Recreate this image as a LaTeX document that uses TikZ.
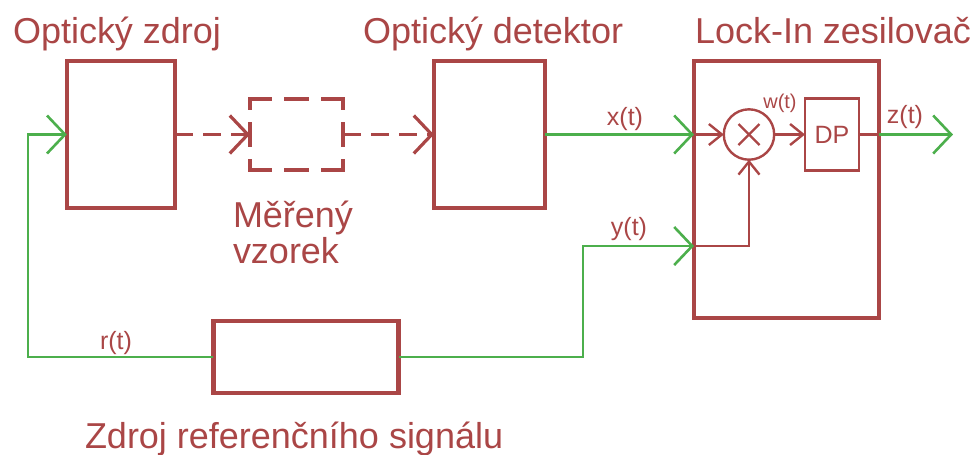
\documentclass[tikz,border=0pt]{standalone}
\usepackage{fontspec}
\setmainfont{Liberation Sans}
\usetikzlibrary{arrows.meta,positioning}

\definecolor{blockred}{RGB}{170,70,70}
\definecolor{signalgreen}{RGB}{76,175,76}
\newcommand{\titlesize}{\fontsize{25.6pt}{25.6pt}\selectfont}
\newcommand{\sigsize}{\fontsize{17.8pt}{17.8pt}\selectfont}

\begin{document}
\begin{tikzpicture}[x=0.25mm, y=-0.25mm,
  every node/.style={text=blockred, inner sep=0pt, outer sep=0pt},
  block/.style={draw=blockred, line width=1.1mm},
  thinblock/.style={draw=blockred, line width=0.6mm},
  title/.style={font=\titlesize, anchor=base west},
  siglabel/.style={font=\sigsize, anchor=base},
  signal/.style={draw=signalgreen, line width=0.65mm},
  redline/.style={draw=blockred, line width=0.6mm},
  light/.style={draw=blockred, line width=0.8mm, dash pattern=on 4.5mm off 2.5mm},
  dashedge/.style={draw=blockred, line width=1mm, line cap=rect, dash pattern=on 5.25mm off 4mm},
  bigarr/.style={-{Straight Barb[length=4.5mm, width=9.5mm]}},
  smallarr/.style={-{Straight Barb[length=3.25mm, width=5.25mm]}}]
  \useasboundingbox (0,0) rectangle (978,454);

  % bloky
  \node[block, minimum width=27.1mm, minimum height=36.75mm] (zdroj) at (121,134.5) {};
  \node[minimum width=23.25mm, minimum height=17.9mm] (vzorek) at (296.5,134.5) {};
  \node[block, minimum width=27.75mm, minimum height=36.75mm] (detektor) at (489.5,134.5) {};
  \node[block, minimum width=46.25mm, minimum height=64.25mm] (lockin) at (786.5,189.5) {};
  \node[block, minimum width=46.25mm, minimum height=18.1mm] (reference) at (306,357) {};

  % vzorek (carkovany)
  \draw[dashedge, dash phase=0.25mm] (vzorek.north west) -- (vzorek.north east);
  \draw[dashedge, dash phase=0.25mm] (vzorek.south west) -- (vzorek.south east);
  \draw[dashedge, dash phase=2.94mm] (vzorek.north west) -- (vzorek.south west);
  \draw[dashedge, dash phase=2.94mm] (vzorek.north east) -- (vzorek.south east);

  % lock-in vnitrek
  \node[thinblock, circle, minimum size=12.6mm] (mix) at (749,134.5) {};
  \draw[redline] ([shift={(-10.5,-10.5)}]mix.center) -- ([shift={(10.5,10.5)}]mix.center);
  \draw[redline] ([shift={(-10.5,10.5)}]mix.center) -- ([shift={(10.5,-10.5)}]mix.center);
  \node[thinblock, minimum width=13.5mm, minimum height=18mm, font=\sigsize] (dp) at (832,134.5) {DP};

  % popisky
  \node[title] at (13,43) {Optický zdroj};
  \node[title] at (363,43) {Optický detektor};
  \node[title] at (695,43) {Lock-In zesilovač};
  \node[title, align=left] at (233,263) {Měřený\\vzorek};
  \node[title] at (85,448) {Zdroj referenčního signálu};

  % svetlo
  \draw[light, bigarr] (zdroj.east) -- (vzorek.west);
  \draw[light, bigarr] (vzorek.east) -- (detektor.west);

  % signaly
  \coordinate (xin) at (detektor.east -| lockin.west);
  \coordinate (yin) at (694,246);
  \coordinate (ybend) at (583,246);
  \coordinate (rbend) at (28,357);
  \coordinate (zout) at (953,134.5);
  \draw[signal, bigarr] (detektor.east) -- (xin);
  \draw[signal, bigarr] (reference.east) -| (ybend) -- (yin);
  \draw[signal, bigarr] (reference.west) -- (rbend) |- (zdroj.west);
  \draw[redline, smallarr] (xin) -- (mix.west);
  \draw[redline, smallarr] (yin) -| (mix.south);
  \draw[redline, smallarr] (mix.east) -- (dp.west);
  \draw[redline] (dp.east) -- (dp.east -| lockin.east);
  \draw[signal, bigarr] (dp.east -| lockin.east) -- (zout);

  \node[siglabel] at (625,125) {x(t)};
  \node[siglabel] at (629,235) {y(t)};
  \node[siglabel] at (905,123) {z(t)};
  \node[siglabel] at (116,349) {r(t)};
  \node[siglabel, font=\fontsize{14.2pt}{14.2pt}\selectfont] at (780,108) {w(t)};
\end{tikzpicture}
\end{document}
